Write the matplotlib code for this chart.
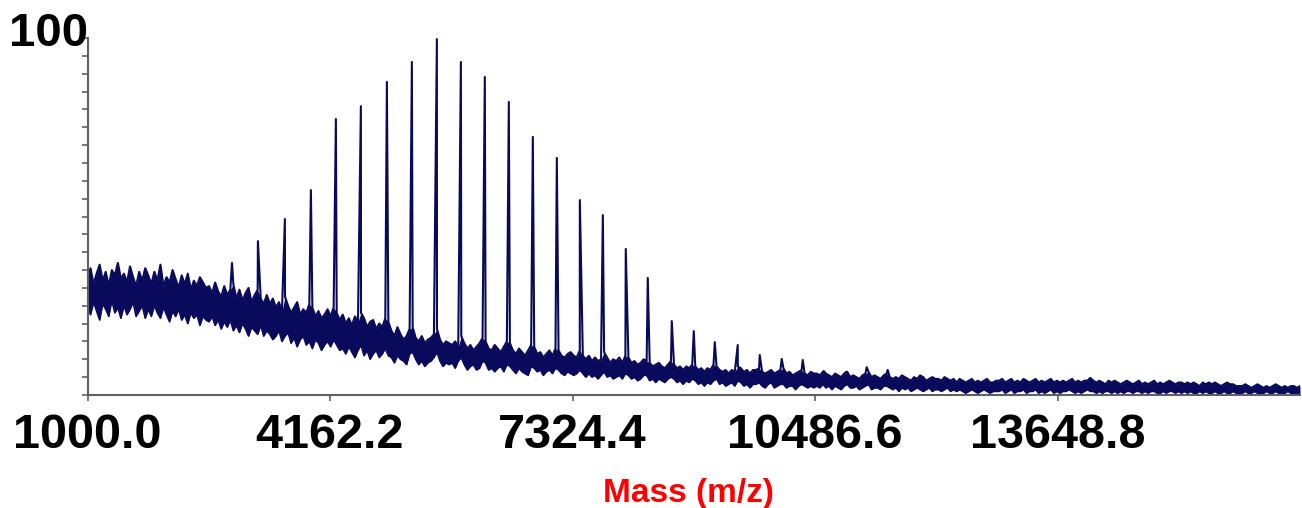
import numpy as np
import matplotlib
matplotlib.use('Agg')
import matplotlib.pyplot as plt

# mass range of the trace and x tick values
mz_start = 1000.0
mz_end = 16811.0
x_ticks = [1000.0, 4162.2, 7324.4, 10486.6, 13648.8]

# upper edge of the noise band, evenly spaced between mz_start and mz_end
noise_hi = [
    33.0, 35.5, 31.0, 34.0, 36.5, 32.0, 34.5, 30.5, 35.0, 33.5, 37.0, 32.5, 34.0, 31.5, 36.0, 33.0, 30.5, 34.5, 32.0, 35.5,
    33.5, 31.0, 34.5, 32.0, 36.5, 30.5, 33.0, 31.5, 35.0, 32.5, 30.0, 33.5, 31.0, 34.0, 29.5, 32.0, 30.5, 33.0, 31.5, 30.0,
    30.5, 28.5, 31.5, 29.0, 27.5, 30.5, 28.0, 29.5, 31.0, 27.0, 29.5, 26.5, 28.5, 30.0, 26.0, 28.0, 29.5, 27.0, 25.5, 28.0,
    25.5, 27.0, 24.5, 26.0, 23.5, 27.5, 25.0, 23.0, 24.5, 26.0, 22.5, 24.0, 23.0, 25.5, 24.5, 22.0, 23.5, 21.5, 22.5, 24.0,
    22.0, 24.5, 23.0, 21.0, 22.5, 20.0, 21.5, 19.5, 22.0, 20.5, 23.0, 21.5, 19.0, 20.5, 21.0, 18.5, 20.0, 19.0, 21.5, 20.5,
    18.0, 16.5, 19.0, 17.0, 15.5, 16.5, 18.5, 19.0, 16.0, 15.0, 16.5, 14.5, 15.5, 16.0, 17.0, 18.5, 15.5, 14.0, 15.0, 14.5,
    14.0, 15.0, 13.5, 16.5, 14.5, 13.0, 14.0, 12.5, 13.5, 14.5, 16.0, 15.0, 13.0, 12.5, 14.0, 13.0, 12.0, 13.5, 15.0, 14.5,
    12.5, 11.5, 13.0, 12.0, 11.0, 12.5, 14.0, 13.5, 11.5, 12.0, 10.5, 11.5, 12.5, 11.0, 13.0, 12.5, 11.0, 10.5, 11.5, 12.0,
    11.0, 10.5, 12.5, 11.0, 10.0, 11.0, 9.5, 10.5, 9.5, 10.0, 12.0, 10.5, 9.0, 10.0, 9.5, 10.5, 9.0, 11.0, 10.5, 9.0,
    9.5, 8.5, 9.0, 10.0, 9.5, 9.0, 8.0, 8.5, 9.0, 8.0, 7.5, 8.5, 9.5, 8.5, 7.5, 8.0, 7.0, 8.0, 7.5, 8.5,
    8.0, 7.0, 7.5, 6.5, 7.5, 7.0, 8.5, 8.0, 7.0, 6.5, 7.0, 6.0, 7.0, 6.5, 8.0, 7.5, 6.5, 7.0, 6.0, 7.0,
    7.0, 7.5, 6.5, 6.0, 6.5, 7.0, 6.0, 6.5, 7.0, 7.5, 6.0, 6.5, 5.5, 6.0, 6.5, 7.0, 6.0, 5.5, 6.5, 6.0,
    6.0, 5.5, 6.5, 6.0, 5.5, 5.0, 6.0, 5.5, 5.0, 6.0, 6.5, 5.0, 5.5, 5.0, 4.5, 5.5, 6.0, 6.5, 5.0, 5.5,
    5.0, 4.5, 5.5, 6.0, 5.0, 4.5, 5.0, 4.5, 5.5, 5.0, 4.5, 4.0, 5.0, 4.5, 5.5, 5.0, 4.0, 4.5, 5.0, 4.5,
    4.5, 4.0, 5.0, 4.5, 4.0, 4.5, 3.5, 4.5, 4.0, 3.5, 4.0, 4.5, 3.5, 4.0, 3.5, 4.0, 4.5, 3.5, 3.5, 4.0,
    4.0, 4.5, 3.5, 4.0, 4.5, 3.5, 4.0, 3.5, 4.5, 4.0, 3.5, 4.0, 4.5, 3.5, 4.0, 3.5, 4.0, 4.5, 3.5, 4.0,
    3.5, 4.0, 3.5, 4.0, 4.5, 3.5, 4.0, 3.5, 4.0, 4.0, 4.8, 4.0, 3.5, 4.0, 3.5, 3.0, 4.0, 3.5, 4.0, 3.5,
    3.0, 3.5, 4.0, 3.5, 3.0, 3.5, 4.0, 3.0, 3.5, 3.0, 3.5, 4.0, 3.0, 3.5, 3.0, 3.5, 4.0, 3.5, 3.0, 3.5,
    3.5, 3.0, 3.5, 3.0, 3.5, 3.0, 2.5, 3.5, 3.0, 3.5, 3.0, 3.5, 3.0, 2.5, 3.0, 3.5, 3.0, 3.0, 2.5, 2.5,
    2.5, 3.0, 2.5, 2.0, 2.5, 3.0, 2.5, 2.0, 2.5, 2.0, 2.5, 3.0, 2.5, 2.0, 2.5, 2.0, 2.5, 2.5, 2.0, 2.5,
]

# lower edge of the noise band, same positions
noise_lo = [
    25.0, 22.5, 26.0, 23.5, 21.0, 25.5, 24.0, 22.0, 26.5, 23.0, 24.5, 21.5, 25.0, 22.5, 24.0, 26.0, 22.0, 23.5, 25.0, 21.5,
    24.0, 22.0, 25.0, 23.0, 21.5, 24.5, 22.5, 20.5, 23.5, 22.0, 24.0, 21.0, 22.5, 20.0, 23.0, 21.5, 22.5, 19.5, 22.0, 21.0,
    20.5, 22.0, 19.5, 21.0, 18.5, 20.5, 19.0, 21.0, 18.0, 19.5, 17.5, 20.0, 18.5, 16.5, 19.0, 18.0, 17.0, 19.5, 16.5, 18.0,
    17.0, 15.5, 16.5, 18.0, 15.0, 16.5, 17.5, 14.5, 16.0, 13.5, 15.5, 16.5, 14.0, 15.0, 13.0, 15.5, 14.5, 12.5, 14.0, 15.0,
    13.5, 15.5, 14.0, 12.5, 13.0, 11.5, 13.5, 12.0, 10.5, 12.5, 14.0, 11.0, 12.5, 10.0, 11.5, 12.5, 10.5, 11.5, 13.0, 11.0,
    10.5, 9.0, 11.0, 10.0, 9.5, 8.5, 11.5, 12.0, 10.0, 8.5, 9.5, 8.0, 9.0, 9.5, 10.5, 12.0, 9.5, 8.0, 9.0, 8.5,
    9.0, 7.5, 9.5, 10.5, 8.5, 7.0, 8.0, 8.5, 7.0, 7.5, 9.5, 9.0, 7.0, 7.5, 6.5, 7.5, 8.0, 6.5, 8.5, 8.0,
    7.0, 6.0, 7.5, 6.5, 6.0, 5.5, 8.0, 7.5, 6.5, 7.0, 5.5, 6.5, 7.0, 6.0, 7.5, 7.0, 6.0, 5.5, 6.5, 6.0,
    5.5, 6.0, 7.0, 6.0, 5.0, 6.0, 5.0, 5.5, 4.5, 5.5, 6.5, 5.0, 5.5, 4.5, 5.0, 5.5, 4.5, 6.0, 5.5, 4.5,
    5.0, 4.0, 4.5, 5.5, 5.5, 4.0, 4.5, 3.5, 4.5, 4.0, 3.5, 4.5, 5.0, 4.5, 3.5, 4.0, 3.0, 4.0, 3.5, 4.5,
    4.0, 3.0, 3.5, 2.5, 3.5, 3.0, 4.0, 4.5, 3.0, 3.5, 2.5, 3.0, 3.5, 2.5, 4.0, 3.5, 2.5, 3.0, 2.0, 3.0,
    3.0, 3.5, 2.5, 2.0, 3.0, 3.5, 2.0, 2.5, 3.0, 3.0, 2.0, 2.5, 2.5, 1.5, 2.5, 3.0, 2.5, 2.0, 2.5, 2.0,
    2.5, 2.0, 3.0, 2.0, 2.5, 1.5, 2.5, 2.0, 1.5, 2.5, 3.0, 2.0, 2.0, 2.5, 1.5, 2.0, 2.5, 3.0, 1.5, 2.0,
    2.0, 1.5, 2.5, 2.5, 2.0, 1.5, 2.0, 1.0, 2.0, 1.5, 2.0, 1.0, 1.5, 2.0, 1.5, 1.0, 1.5, 2.0, 1.0, 1.5,
    1.5, 1.0, 1.5, 2.0, 1.0, 1.5, 1.0, 1.5, 1.0, 0.5, 1.0, 1.5, 1.0, 0.5, 1.0, 1.5, 1.0, 0.5, 1.0, 1.0,
    1.0, 1.5, 0.5, 1.0, 1.5, 0.5, 1.0, 1.0, 1.5, 0.5, 1.0, 1.0, 1.5, 0.5, 1.0, 0.5, 1.0, 1.5, 0.5, 1.0,
    0.5, 1.0, 1.0, 1.5, 1.0, 0.5, 1.0, 0.5, 1.0, 1.5, 1.0, 1.0, 0.5, 1.0, 0.5, 1.0, 1.0, 0.5, 1.0, 0.5,
    1.0, 0.5, 1.0, 1.0, 0.5, 1.0, 1.0, 0.5, 1.0, 0.5, 1.0, 1.0, 0.5, 0.5, 1.0, 0.5, 1.0, 1.0, 0.5, 1.0,
    0.5, 1.0, 0.5, 1.0, 0.5, 0.5, 1.0, 0.5, 1.0, 0.5, 0.5, 1.0, 0.5, 0.5, 1.0, 0.5, 0.5, 1.0, 0.5, 0.5,
    0.5, 1.0, 0.5, 0.5, 1.0, 0.5, 0.5, 0.5, 1.0, 0.5, 0.5, 1.0, 0.5, 0.5, 0.5, 1.0, 0.5, 0.5, 0.5, 0.5,
]

# peak series: m/z and relative intensity (%)
peak_mz = [2884, 3222, 3574, 3913, 4239, 4565, 4904, 5230, 5556, 5869,
           6181, 6494, 6807, 7120, 7420, 7720, 8019, 8306, 8619, 8906,
           9180, 9479, 9766, 10053, 10327, 10600, 10887, 11161, 11434]
peak_int = [37.0, 43.1, 49.3, 57.4, 77.3, 80.9, 87.7, 93.3, 99.7, 93.3,
            89.1, 82.1, 72.3, 66.4, 54.6, 50.4, 40.9, 32.8, 20.7, 17.9,
            14.8, 14.0, 11.2, 10.1, 9.8, 6.7, 6.4, 7.8, 7.0]

noise_mz = np.linspace(mz_start, mz_end, len(noise_hi))
# upper edge with the peak tops slotted in by mass
mz = np.concatenate([noise_mz, peak_mz])
inten = np.concatenate([noise_hi, peak_int])
order = np.argsort(mz, kind='stable')
mz = mz[order]
inten = inten[order]

fig = plt.figure(figsize=(13.02, 5.08), dpi=100)
ax = fig.add_axes([87.5/1302, 1-395/508, (1300-87.5)/1302, (395-38)/508])

line_color = '#0a0a5c'
ax.fill_between(noise_mz, noise_lo, noise_hi, color=line_color, lw=0)
ax.plot(noise_mz, noise_lo, color=line_color, lw=1.2)
ax.plot(mz, inten, color=line_color, lw=1.5)

ax.set_xlim(mz_start, mz_end)
ax.set_ylim(0, 100)

ax.set_xticks(x_ticks)
ax.set_xticklabels([f'{v:.1f}' for v in x_ticks])
ax.set_yticks(np.arange(0, 101, 5))
ax.set_yticklabels([])

for s in ['top', 'right']:
    ax.spines[s].set_visible(False)
for s in ['left', 'bottom']:
    ax.spines[s].set_color('#606060')
    ax.spines[s].set_linewidth(1.5)

ax.tick_params(axis='both', direction='out', length=4, width=1.2, color='#606060')
ax.tick_params(axis='x', pad=9, labelsize=35)
for lab in ax.get_xticklabels():
    lab.set_fontfamily('Liberation Sans')
    lab.set_fontweight('bold')

fig.text(88/1302, 1-46/508, '100', ha='right', va='baseline',
         fontsize=34, fontweight='bold', family='Liberation Sans')
fig.text(688/1302, 1-502/508, 'Mass (m/z)', ha='center', va='baseline',
         fontsize=24, fontweight='bold', family='Liberation Sans', color='red')

fig.savefig('out.png', dpi=100)
